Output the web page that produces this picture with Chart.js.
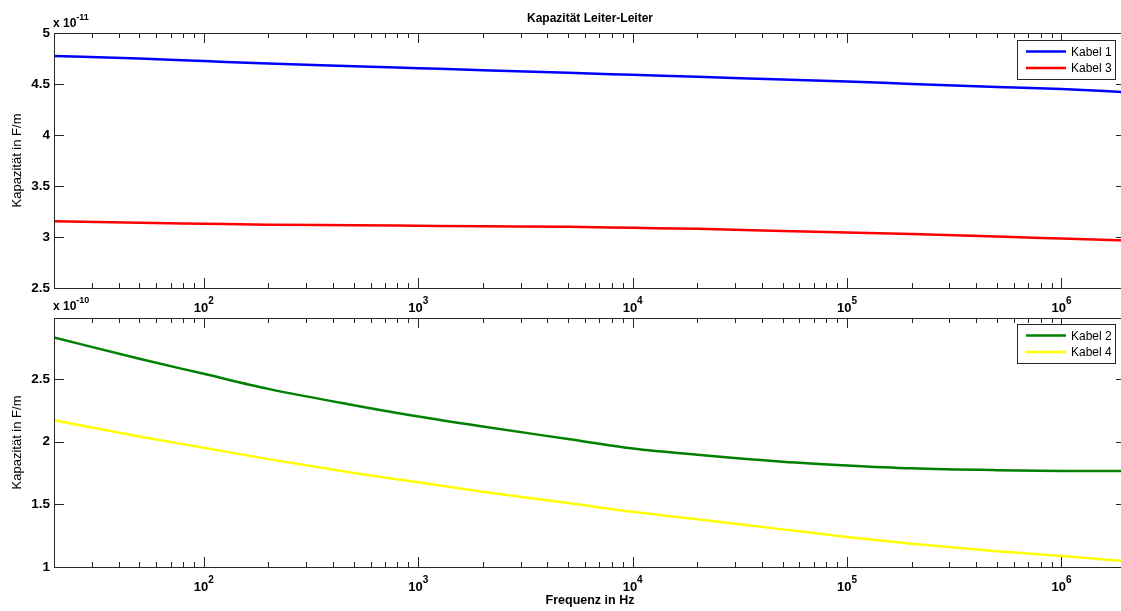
<!DOCTYPE html>
<html><head><meta charset="utf-8">
<script src="https://cdn.jsdelivr.net/npm/chart.js@4.4.1/dist/chart.umd.min.js"></script>
<style>
html,body{margin:0;padding:0;background:#fff;overflow:hidden;width:1121px;height:611px;position:relative}
#c1{position:absolute;left:0;top:0}
#c2{position:absolute;left:0;top:290px}
</style></head><body>
<canvas id="c1" width="1127" height="318"></canvas>
<canvas id="c2" width="1127" height="321"></canvas>
<script>
// Frequencies in Hz
const frequencies = [20,50,100,200,500,1000,2000,5000,1e4,2e4,5e4,1e5,2e5,5e5,1e6,2e6];
// Top plot values (x 1e-11 F/m)
const kabel1 = [4.775,4.75,4.725,4.70,4.675,4.655,4.635,4.61,4.59,4.57,4.545,4.525,4.50,4.47,4.45,4.42];
const kabel3 = [3.155,3.14,3.13,3.12,3.115,3.11,3.105,3.10,3.09,3.08,3.06,3.045,3.03,3.005,2.985,2.965];
// Bottom plot values (x 1e-10 F/m)
const kabel2 = [2.83,2.66,2.54,2.42,2.29,2.20,2.12,2.02,1.945,1.895,1.84,1.81,1.787,1.772,1.766,1.765];
const kabel4 = [2.17,2.04,1.95,1.86,1.75,1.675,1.60,1.51,1.44,1.38,1.30,1.24,1.185,1.125,1.088,1.045];

const xMajorTicks = [100,1000,10000,100000,1000000];
const xMajorExponents = ['2','3','4','5','6'];
const yTopTicks = [2.5,3,3.5,4,4.5,5];
const yBottomTicks = [1,1.5,2,2.5];

const FONT = '"Liberation Sans", Arial, Helvetica, sans-serif';
const AXIS = '#262626';

function matlabPlugin(o){
  return {
    id:'matlab'+o.key,
    afterDraw(chart){
      const {ctx, chartArea:a, scales:{x,y}} = chart;
      ctx.save();
      ctx.strokeStyle = AXIS; ctx.lineWidth = 1;
      for (let k=1;k<=6;k++){
        for (let m=1;m<=9;m++){
          const v = m*Math.pow(10,k);
          if (v < x.min || v > x.max) continue;
          const px = Math.round(x.getPixelForValue(v))+0.5;
          const len = m===1 ? 10 : 5;
          ctx.beginPath();
          ctx.moveTo(px,a.bottom); ctx.lineTo(px,a.bottom-len);
          ctx.moveTo(px,a.top); ctx.lineTo(px,a.top+len);
          ctx.stroke();
        }
      }
      y.ticks.forEach(t=>{
        const py = Math.round(y.getPixelForValue(t.value))+0.5;
        ctx.beginPath();
        ctx.moveTo(a.left,py); ctx.lineTo(a.left+10,py);
        ctx.moveTo(a.right,py); ctx.lineTo(a.right-10,py);
        ctx.stroke();
      });
      ctx.strokeRect(a.left+0.5,a.top+0.5,a.right-a.left,a.bottom-a.top);
      ctx.fillStyle = '#000';
      ctx.textBaseline = 'alphabetic';
      ctx.textAlign = 'left';
      xMajorTicks.forEach((v,i)=>{
        const px = x.getPixelForValue(v);
        ctx.font = 'bold 13px '+FONT;
        const w1 = ctx.measureText('10').width;
        ctx.font = 'bold 10px '+FONT;
        const w2 = ctx.measureText(xMajorExponents[i]).width;
        const sx = px - (w1+w2)/2;
        const by = a.bottom + 24;
        ctx.font = 'bold 13px '+FONT;
        ctx.fillText('10', sx, by);
        ctx.font = 'bold 10px '+FONT;
        ctx.fillText(xMajorExponents[i], sx+w1, by-8);
      });
      ctx.font = 'bold 12px '+FONT;
      const wx = ctx.measureText('x 10').width;
      ctx.fillText('x 10', a.left-1, a.top-o.expOffset);
      ctx.font = 'bold 9px '+FONT;
      ctx.fillText(o.exponent, a.left-1+wx, a.top-o.expOffset-7);
      if (o.title){
        ctx.font = 'bold 12px '+FONT;
        ctx.textAlign = 'center';
        ctx.fillText(o.title, (a.left+a.right)/2, 22);
        ctx.textAlign = 'left';
      }
      const lw = 98, lh = 39;
      const lx = a.right - 11 - lw, ly = a.top + o.legendTop;
      ctx.fillStyle = '#fff';
      ctx.fillRect(lx,ly,lw,lh);
      ctx.strokeStyle = AXIS; ctx.lineWidth = 1;
      ctx.strokeRect(lx+0.5,ly+0.5,lw,lh);
      chart.data.datasets.forEach((ds,i)=>{
        const cy = ly + 11.5 + i*16.5;
        ctx.strokeStyle = ds.borderColor; ctx.lineWidth = 2.5;
        ctx.beginPath(); ctx.moveTo(lx+9,cy); ctx.lineTo(lx+49,cy); ctx.stroke();
        ctx.fillStyle = '#000';
        ctx.font = '12px '+FONT;
        ctx.textBaseline = 'middle';
        ctx.fillText(ds.label, lx+54, cy+1);
      });
      ctx.restore();
    }
  };
}

function makeChart(id, o){
  return new Chart(document.getElementById(id), {
    type:'line',
    data:{
      labels: frequencies,
      datasets: o.series.map(s=>({
        label:s.label,
        data: frequencies.map((f,i)=>({x:f,y:s.values[i]})),
        borderColor:s.color, backgroundColor:s.color,
        borderWidth:2.5, pointRadius:0, cubicInterpolationMode:'monotone', fill:false
      }))
    },
    options:{
      responsive:false, animation:false, devicePixelRatio:1,
      layout:{padding:{top:o.padTop,left:0,right:1,bottom:0}},
      plugins:{legend:{display:false}, title:{display:false}, tooltip:{enabled:false}},
      scales:{
        x:{
          type:'logarithmic', min:20, max:2e6,
          ticks:{display:false},
          grid:{display:false, drawTicks:false},
          border:{display:false},
          title:{display:!!o.xTitle, text:o.xTitle||'', color:'#000',
                 font:{family:FONT,size:12.5,weight:'bold'}, padding:{top:0,bottom:3}},
          afterFit:s=>{s.height=o.xHeight;}
        },
        y:{
          type:'linear', min:o.yMin, max:o.yMax,
          afterBuildTicks:s=>{s.ticks=o.yTicks.map(v=>({value:v}));},
          ticks:{color:'#000', padding:4, font:{family:FONT,size:13.5,weight:'bold'},
                 callback:v=>String(Number(v))},
          grid:{display:false, drawTicks:false},
          border:{display:false},
          title:{display:true, text:'Kapazität in F/m', color:'#000',
                 font:{family:FONT,size:13}, padding:{top:10,bottom:0}},
          afterFit:s=>{s.width=54;}
        }
      }
    },
    plugins:[matlabPlugin(o)]
  });
}

makeChart('c1',{
  key:'top', padTop:33, xHeight:30, yMin:2.5, yMax:5, yTicks:yTopTicks,
  exponent:'-11', expOffset:6, title:'Kapazität Leiter-Leiter', legendTop:7,
  series:[
    {label:'Kabel 1', values:kabel1, color:'#0000ff'},
    {label:'Kabel 3', values:kabel3, color:'#ff0000'}
  ]
});
makeChart('c2',{
  key:'bottom', padTop:28, xHeight:44, yMin:1, yMax:2.985, yTicks:yBottomTicks,
  exponent:'-10', expOffset:8, legendTop:6, xTitle:'Frequenz in Hz',
  series:[
    {label:'Kabel 2', values:kabel2, color:'#008000'},
    {label:'Kabel 4', values:kabel4, color:'#ffff00'}
  ]
});
</script>
</body></html>
